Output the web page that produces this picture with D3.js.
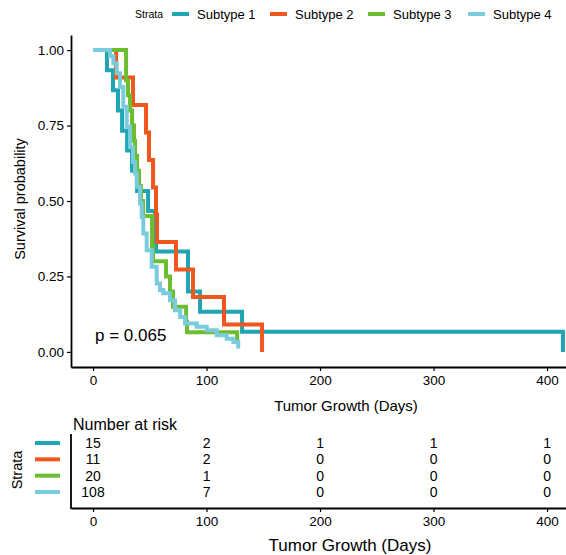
<!DOCTYPE html>
<html>
<head>
<meta charset="utf-8">
<script src="https://cdn.jsdelivr.net/npm/d3@7"></script>
<style>
	body { margin: 0; background: white; font-family: "Liberation Sans", Arial, sans-serif; }
	svg text { fill: #000; }
</style>
</head>
<body>
<svg id="km" width="566" height="555"></svg>
<script>
// ---- data ----
var strata = ["Subtype 1", "Subtype 2", "Subtype 3", "Subtype 4"];
var colors = ["#1fa5b3", "#f0571f", "#6cbd30", "#7accdd"];

// [time, survival] at each step
var subtype1 = [[0, 1], [12.3, 0.933], [17.6, 0.867], [22, 0.8], [25.6, 0.733], [30, 0.667],
	[34.4, 0.6], [38.8, 0.533], [48.5, 0.467], [54.6, 0.4], [55.5, 0.333], [83.7, 0.2],
	[94.3, 0.133], [131.3, 0.067], [414, 0]];
var subtype2 = [[0, 1], [20.3, 0.909], [35.2, 0.818], [46.7, 0.727], [49.3, 0.636], [52.9, 0.545],
	[55.5, 0.455], [56.4, 0.364], [73.1, 0.273], [88.1, 0.182], [115.4, 0.091], [148.9, 0]];
var subtype3 = [[0, 1], [29.1, 0.9], [30.8, 0.85], [32.6, 0.8], [34.4, 0.75], [36.1, 0.7],
	[37, 0.65], [38.8, 0.6], [40.5, 0.55], [42.3, 0.5], [44.1, 0.45], [52, 0.35], [52.9, 0.3],
	[64.3, 0.25], [67.8, 0.2], [70.5, 0.15], [82, 0.1], [82.8, 0.065], [127, 0.033]];
var subtype4 = [[0, 1], [15, 0.98], [17.9, 0.956], [20.9, 0.923], [23.8, 0.878], [26.7, 0.812],
	[29.7, 0.746], [32.6, 0.679], [35.2, 0.629], [37, 0.591], [38.5, 0.547], [41.4, 0.492],
	[42.9, 0.447], [44.3, 0.392], [47.3, 0.337], [51.7, 0.282], [56.1, 0.227], [59, 0.205],
	[61.9, 0.194], [67.8, 0.171], [72.2, 0.138], [76.7, 0.116], [81.1, 0.094], [91.4, 0.083],
	[100.2, 0.072], [109, 0.055], [117.8, 0.044], [123.6, 0.033], [127.9, 0.011]];
var curves = [subtype1, subtype2, subtype3, subtype4];

var xTicks = [0, 100, 200, 300, 400];
var yTicks = [0, 0.25, 0.5, 0.75, 1];
var riskCounts = [[15, 2, 1, 1, 1], [11, 2, 0, 0, 0], [20, 1, 0, 0, 0], [108, 7, 0, 0, 0]];
var pValue = "p = 0.065";

// ---- layout ----
var svg = d3.select("#km");
var x = d3.scaleLinear().domain([-19.4, 416.7]).range([71, 566]);
var y = d3.scaleLinear().domain([-0.05, 1.05]).range([367, 35]);

function styleAxis(g) {
	g.selectAll(".domain").attr("stroke", "#000").attr("stroke-width", 1.8);
	g.selectAll(".tick line").attr("stroke", "#000").attr("stroke-width", 1.2);
	g.selectAll(".tick text").attr("fill", "#000").style("font-size", "13.5px")
		.style("font-family", "Liberation Sans, Arial, sans-serif");
}

// legend
var legend = svg.append("g");
legend.append("text").attr("x", 135).attr("y", 18).style("font-size", "10.5px").text("Strata");
var legX = [172, 270, 368, 468];
strata.forEach(function (s, i) {
	legend.append("line").attr("x1", legX[i]).attr("x2", legX[i] + 17).attr("y1", 14).attr("y2", 14)
		.attr("stroke", colors[i]).attr("stroke-width", 4);
	legend.append("text").attr("x", legX[i] + 25).attr("y", 19).style("font-size", "13px").text(s);
});

// main plot axes
svg.append("g").attr("transform", "translate(0,367)")
	.call(d3.axisBottom(x).tickValues(xTicks).tickSize(4).tickPadding(4).tickSizeOuter(0))
	.call(styleAxis);
svg.append("g").attr("transform", "translate(71,0)")
	.call(d3.axisLeft(y).tickValues(yTicks).tickFormat(d3.format(".2f")).tickSize(4).tickPadding(3).tickSizeOuter(0))
	.call(styleAxis);

svg.append("text").attr("transform", "translate(25,199) rotate(-90)").attr("text-anchor", "middle")
	.style("font-size", "14.5px").text("Survival probability");
svg.append("text").attr("x", 346).attr("y", 411).attr("text-anchor", "middle")
	.style("font-size", "15px").text("Tumor Growth (Days)");

// curves
var line = d3.line()
	.x(function (d) { return x(d[0]); })
	.y(function (d) { return y(d[1]); })
	.curve(d3.curveStepAfter);

svg.append("g").selectAll("path")
	.data(curves)
	.enter()
	.append("path")
	.attr("d", line)
	.attr("fill", "none")
	.attr("stroke", function (d, i) { return colors[i]; })
	.attr("stroke-width", 4);

svg.append("text").attr("x", 95).attr("y", 341).style("font-size", "17px").text(pValue);

// ---- risk table ----
svg.append("text").attr("x", 73).attr("y", 430).style("font-size", "16px").text("Number at risk");

var rowY = d3.scalePoint().domain(strata).range([443, 492]);

var risk = svg.append("g");
strata.forEach(function (s, i) {
	risk.append("line").attr("x1", 35).attr("x2", 60).attr("y1", rowY(s)).attr("y2", rowY(s))
		.attr("stroke", colors[i]).attr("stroke-width", 4);
	risk.selectAll(null)
		.data(riskCounts[i])
		.enter()
		.append("text")
		.attr("x", function (d, j) { return x(xTicks[j]); })
		.attr("y", rowY(s) + 5)
		.attr("text-anchor", "middle")
		.style("font-size", "14px")
		.text(function (d) { return d; });
});

svg.append("g").attr("transform", "translate(0,508)")
	.call(d3.axisBottom(x).tickValues(xTicks).tickSize(4).tickPadding(4).tickSizeOuter(0))
	.call(styleAxis);
svg.append("line").attr("x1", 71).attr("x2", 71).attr("y1", 434).attr("y2", 509)
	.attr("stroke", "#000").attr("stroke-width", 1.8);

svg.append("text").attr("transform", "translate(22,470) rotate(-90)").attr("text-anchor", "middle")
	.style("font-size", "14.5px").text("Strata");
svg.append("text").attr("x", 350).attr("y", 551).attr("text-anchor", "middle")
	.style("font-size", "17px").text("Tumor Growth (Days)");
</script>
</body>
</html>
